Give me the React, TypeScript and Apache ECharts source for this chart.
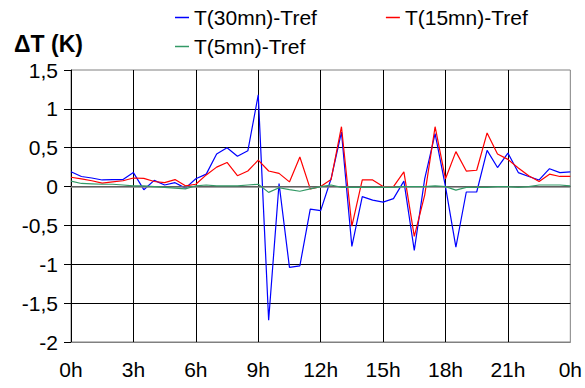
import React, { useEffect, useRef } from "react";
import * as echarts from "echarts";

const hours = [
  0, 0.5, 1, 1.5, 2, 2.5, 3, 3.5, 4, 4.5, 5, 5.5, 6, 6.5, 7, 7.5, 8, 8.5, 9, 9.5,
  10, 10.5, 11, 11.5, 12, 12.5, 13, 13.5, 14, 14.5, 15, 15.5, 16, 16.5, 17, 17.5,
  18, 18.5, 19, 19.5, 20, 20.5, 21, 21.5, 22, 22.5, 23, 23.5, 24,
];

const t30 = [
  0.19, 0.13, 0.11, 0.085, 0.09, 0.09, 0.18, -0.04, 0.08, 0.02, 0.05, -0.02, 0.1,
  0.16, 0.42, 0.5, 0.39, 0.46, 1.18, -1.72, 0.04, -1.04, -1.02, -0.29, -0.31, 0.1,
  0.7, -0.77, -0.13, -0.175, -0.2, -0.155, 0.07, -0.82, 0.1, 0.68, 0.0, -0.78,
  -0.07, -0.07, 0.465, 0.245, 0.43, 0.18, 0.13, 0.085, 0.23, 0.18, 0.19,
];

const t15 = [
  0.12, 0.1, 0.075, 0.045, 0.06, 0.075, 0.11, 0.105, 0.065, 0.05, 0.09, 0.01, 0.03,
  0.15, 0.25, 0.31, 0.14, 0.2, 0.34, 0.2, 0.17, 0.06, 0.38, -0.03, 0.0, 0.09, 0.77,
  -0.51, 0.085, 0.085, 0.0, 0.0, 0.19, -0.64, -0.11, 0.77, 0.1, 0.45, 0.2, 0.21,
  0.69, 0.42, 0.35, 0.24, 0.14, 0.065, 0.16, 0.13, 0.13,
];

const t5 = [
  0.07, 0.04, 0.035, 0.03, 0.03, 0.02, 0.01, 0.01, 0.0, -0.01, -0.02, -0.03, 0.01,
  0.02, 0.01, 0.01, 0.01, 0.02, 0.03, -0.075, -0.015, -0.04, -0.06, -0.03, 0.0,
  0.02, -0.01, -0.01, -0.01, -0.01, -0.01, -0.01, 0.0, 0.0, 0.0, 0.01, 0.0, -0.045,
  -0.01, -0.01, -0.01, 0.0, 0.0, -0.01, 0.0, 0.02, 0.02, 0.02, 0.01,
];

const seriesNames = ["T(30mn)-Tref", "T(15mn)-Tref", "T(5mn)-Tref"];
const yTitle = "ΔT (K)";

const FONT = "'Liberation Sans', Arial, sans-serif";
const FS = 21;

export default function App() {
  const ref = useRef<HTMLDivElement>(null);
  useEffect(() => {
    if (!ref.current) return;
    const chart = echarts.init(ref.current, null, { renderer: "svg" });
    const pair = (vals: number[]) => hours.map((h, i) => [h, vals[i]]);
    chart.setOption({
      animation: false,
      backgroundColor: "#ffffff",
      textStyle: { fontFamily: FONT },
      title: {
        text: yTitle,
        left: 14,
        top: 32,
        padding: 0,
        textStyle: { fontFamily: FONT, fontSize: 23, fontWeight: "bold", color: "#000" },
      },
      legend: [
        {
          data: [seriesNames[0], seriesNames[1]],
          left: 175,
          top: 7,
          padding: 0,
          itemGap: 69,
          itemWidth: 14,
          itemHeight: 1.5,
          icon: "rect",
          textStyle: { fontFamily: FONT, fontSize: FS, color: "#000" },
        },
        {
          data: [seriesNames[2]],
          left: 175,
          top: 36,
          padding: 0,
          itemWidth: 14,
          itemHeight: 1.5,
          icon: "rect",
          textStyle: { fontFamily: FONT, fontSize: FS, color: "#000" },
        },
      ],
      grid: {
        left: 71,
        right: 12,
        top: 70,
        bottom: 46,
        show: true,
        borderColor: "#808080",
        borderWidth: 1,
        backgroundColor: "transparent",
      },
      xAxis: {
        type: "value",
        min: 0,
        max: 24,
        interval: 3,
        axisLine: { show: true, onZero: false, lineStyle: { color: "#808080", width: 1 } },
        axisTick: { show: false },
        axisLabel: {
          margin: 17,
          fontFamily: FONT,
          fontSize: FS,
          color: "#000",
          formatter: (v: number) => `${v % 24}h`,
        },
        splitLine: {
          show: true,
          showMinLine: false,
          showMaxLine: false,
          lineStyle: { color: "#000", width: 1 },
        },
      },
      yAxis: {
        type: "value",
        min: -2,
        max: 1.5,
        interval: 0.5,
        axisLine: { show: true, lineStyle: { color: "#000", width: 1 } },
        axisTick: { show: true, length: 7, lineStyle: { color: "#000" } },
        axisLabel: {
          margin: 13,
          fontFamily: FONT,
          fontSize: FS,
          color: "#000",
          formatter: (v: number) => String(v).replace(".", ","),
        },
        splitLine: {
          show: true,
          showMinLine: false,
          showMaxLine: false,
          lineStyle: { color: "#000", width: 1 },
        },
      },
      series: [
        {
          name: seriesNames[0],
          type: "line",
          data: pair(t30),
          symbol: "none",
          lineStyle: { color: "#0000FF", width: 1.2 },
          itemStyle: { color: "#0000FF" },
          markLine: {
            silent: true,
            symbol: "none",
            label: { show: false },
            lineStyle: { color: "#808080", width: 1.5, type: "solid" },
            data: [{ yAxis: 0 }],
          },
          z: 3,
        },
        {
          name: seriesNames[1],
          type: "line",
          data: pair(t15),
          symbol: "none",
          lineStyle: { color: "#FF0000", width: 1.2 },
          itemStyle: { color: "#FF0000" },
          z: 4,
        },
        {
          name: seriesNames[2],
          type: "line",
          data: pair(t5),
          symbol: "none",
          lineStyle: { color: "#339966", width: 1.2 },
          itemStyle: { color: "#339966" },
          z: 5,
        },
      ],
    });
    return () => chart.dispose();
  }, []);
  return (
    <div
      ref={ref}
      style={{ position: "fixed", left: 0, top: 0, width: 585, height: 388, background: "#fff" }}
    />
  );
}
